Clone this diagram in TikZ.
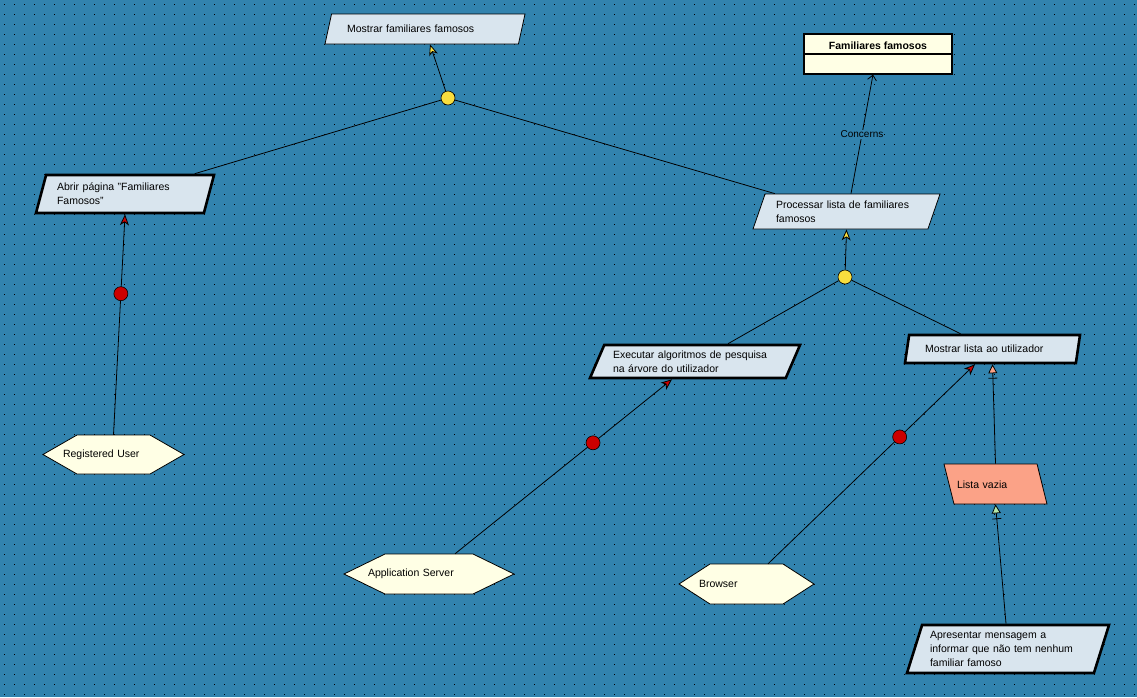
\documentclass[tikz,border=0pt]{standalone}
\usepackage{fontspec}
\setmainfont{Liberation Sans}
\usetikzlibrary{arrows.meta, shapes.geometric}

\definecolor{canvas}{RGB}{50,131,174}
\definecolor{taskfill}{RGB}{217,229,238}
\definecolor{cream}{RGB}{255,255,229}
\definecolor{lvsalmon}{RGB}{251,162,135}
\definecolor{joinyellow}{RGB}{249,222,62}
\definecolor{reqred}{RGB}{204,0,0}
\definecolor{tipgreen}{RGB}{181,232,168}

\begin{document}
\begin{tikzpicture}[x=1pt, y=-1pt, font=\fontsize{10.5}{14}\selectfont,
	task/.style={trapezium, trapezium stretches body, draw, fill=taskfill, align=left, inner xsep=0pt, inner ysep=1pt},
	bigtask/.style={task, line width=2.6pt},
	smalltask/.style={task, line width=0.8pt},
	lean/.style 2 args={trapezium left angle=#1, trapezium right angle=#2},
	actor/.style={rectangle, inner sep=0pt, align=left, path picture={
		\draw[fill=cream, line width=0.8pt] ([xshift=1pt]path picture bounding box.west)
			-- ([xshift=#1, yshift=-1pt]path picture bounding box.north west)
			-- ([xshift=-#1, yshift=-1pt]path picture bounding box.north east)
			-- ([xshift=-1pt]path picture bounding box.east)
			-- ([xshift=-#1, yshift=1pt]path picture bounding box.south east)
			-- ([xshift=#1, yshift=1pt]path picture bounding box.south west) -- cycle;}},
	classbox/.style={rectangle, draw, line width=1.2pt, fill=cream, minimum width=148pt, minimum height=40pt},
	junction/.style={circle, draw, line width=0.6pt, fill=joinyellow, minimum size=14pt, inner sep=0pt},
	reqdot/.style={circle, draw, line width=0.6pt, fill=reqred, minimum size=14pt, inner sep=0pt},
	flow/.style={draw=black, line width=0.8pt},
	crossbar/.style={draw, line width=0.8pt, minimum width=0pt, minimum height=9pt, inner sep=0pt, outer sep=0pt},
	gridDot/.style={black, line width=1pt, dash pattern=on 1pt off 9pt}]

	% canvas with dotted grid
	\useasboundingbox (0,0) rectangle (1137,697);
	\fill[canvas] (0,0) rectangle (1137,697);
	\foreach \row in {4.5,14.5,...,694.5}
		\draw[gridDot] (4,\row) -- (1137,\row);

	% goals and tasks
	\node[smalltask] (mostrar) [lean={56}{124}, minimum width=200pt, minimum height=30pt, text width=156pt] at (425,29) {Mostrar familiares famosos};
	\node[bigtask] (abrir) [lean={67}{113}, minimum width=178pt, minimum height=38pt, text width=136pt] at (125,194) {Abrir página "Familiares\\Famosos"};
	\node[smalltask] (processar) [lean={63}{117}, minimum width=187pt, minimum height=35pt, text width=141pt] at (846.5,211.5) {Processar lista de familiares\\famosos};
	\node[bigtask] (executar) [lean={59}{121}, minimum width=210pt, minimum height=33pt, text width=164pt] at (695,361.5) {Executar algoritmos de pesquisa\\na árvore do utilizador};
	\node[bigtask] (mostrarlista) [lean={67}{113}, minimum width=175pt, minimum height=28pt, text width=135pt] at (992.5,349) {Mostrar lista ao utilizador};
	\node[smalltask] (listavazia) [lean={104}{76}, fill=lvsalmon, minimum width=103pt, text height=8pt, text depth=0pt, inner ysep=16pt, text width=77pt] at (995.5,484) {Lista vazia};
	\node[bigtask] (apresentar) [lean={68}{112}, minimum width=202pt, minimum height=48pt, text width=156pt] at (1008,649) {Apresentar mensagem a\\informar que não tem nenhum\\familiar famoso};

	% resource
	\node[classbox] (familiares) at (878,54) {};
	\node[font=\fontsize{10.5}{14}\selectfont\bfseries] (familiarestitle) at (878,45.5) {Familiares famosos};
	\draw[line width=1.2pt] (familiares.west) -- (familiares.east);

	% actors
	\node[actor=35pt] (user) [minimum width=143pt, minimum height=41pt, text width=101pt] at (113.5,454.5) {Registered User};
	\node[actor=42pt] (server) [minimum width=172pt, minimum height=42pt, text width=122pt] at (429,574) {Application Server};
	\node[actor=32pt] (browser) [minimum width=137pt, minimum height=42pt, text width=95pt] at (746.5,584) {Browser};

	% decompositions
	\node[junction] (joina) at (448,98) {};
	\node[junction] (joinb) at (845,277) {};
	\draw[flow, -{Stealth[length=11pt, width=9pt, inset=3pt, fill=joinyellow]}] (joina) -- ([xshift=5pt]mostrar.south);
	\draw[flow] (joina) -- ([xshift=-21pt]abrir.top right corner);
	\draw[flow] (joina) -- ([xshift=10pt]processar.top left corner);
	\draw[flow, -{Stealth[length=11pt, width=9pt, inset=3pt, fill=joinyellow]}] (joinb) -- (processar.south);
	\draw[flow] (joinb) -- ([xshift=33pt]executar.north);
	\draw[flow] (joinb) -- ([xshift=-32pt]mostrarlista.north);

	% concerns
	\draw[flow, -{Straight Barb[length=5pt, width=9pt]}] ([xshift=4.5pt]processar.north) -- ([xshift=-5pt]familiares.south)
		node[midway, fill=canvas, inner sep=1pt, font=\fontsize{10}{12}\selectfont] (concernslabel) {Concerns};

	% performed by
	\draw[flow, -{Stealth[length=11pt, width=9pt, inset=3pt, fill=reqred]}] ([yshift=-1pt]user.north) -- (abrir.south)
		node[reqdot, pos=0.64] (dota) {};
	\draw[flow, -{Stealth[length=11pt, width=9pt, inset=3pt, fill=reqred]}] ([xshift=26pt, yshift=-1pt]server.north) -- ([xshift=-23pt]executar.south)
		node[reqdot, pos=0.636] (dotb) {};
	\draw[flow, -{Stealth[length=11pt, width=9pt, inset=3pt, fill=reqred]}] ([xshift=21.5pt, yshift=-1pt]browser.north) -- ([xshift=-17.5pt]mostrarlista.south)
		node[reqdot, pos=0.636] (dotc) {};

	% exceptions
	\draw[flow, -{Triangle[length=9pt, width=9pt, fill=lvsalmon]}] (listavazia.north) -- (mostrarlista.south)
		node[crossbar, sloped, pos=0.86] (bara) {};
	\draw[flow, -{Triangle[length=9pt, width=9pt, fill=tipgreen]}] ([xshift=-2pt]apresentar.north) -- (listavazia.south)
		node[crossbar, sloped, pos=0.88] (barb) {};
\end{tikzpicture}
\end{document}
